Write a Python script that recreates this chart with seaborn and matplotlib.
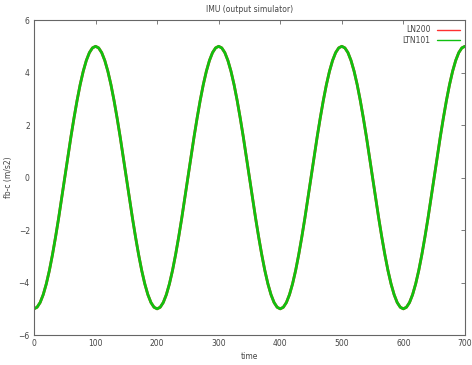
import matplotlib
matplotlib.use("Agg")
import matplotlib.pyplot as plt
import seaborn as sns
import pandas as pd
import numpy as np

title = "IMU (output simulator)"
xlabel = "time"
ylabel = "fb-c (m/s2)"
series_names = ["LN200", "LTN101"]
series_colors = ["#ff3030", "#10c010"]
x_ticks = [0, 100, 200, 300, 400, 500, 600, 700]
y_ticks = [-6, -4, -2, 0, 2, 4, 6]

time = list(range(0, 705, 5))
accel = [
    -5.00, -4.94, -4.76, -4.46, -4.05, -3.54, -2.94, -2.27, -1.55, -0.78,
    0.00, 0.78, 1.55, 2.27, 2.94, 3.54, 4.05, 4.46, 4.76, 4.94,
    5.00, 4.94, 4.76, 4.46, 4.05, 3.54, 2.94, 2.27, 1.55, 0.78,
    0.00, -0.78, -1.55, -2.27, -2.94, -3.54, -4.05, -4.46, -4.76, -4.94,
    -5.00, -4.94, -4.76, -4.46, -4.05, -3.54, -2.94, -2.27, -1.55, -0.78,
    0.00, 0.78, 1.55, 2.27, 2.94, 3.54, 4.05, 4.46, 4.76, 4.94,
    5.00, 4.94, 4.76, 4.46, 4.05, 3.54, 2.94, 2.27, 1.55, 0.78,
    0.00, -0.78, -1.55, -2.27, -2.94, -3.54, -4.05, -4.46, -4.76, -4.94,
    -5.00, -4.94, -4.76, -4.46, -4.05, -3.54, -2.94, -2.27, -1.55, -0.78,
    0.00, 0.78, 1.55, 2.27, 2.94, 3.54, 4.05, 4.46, 4.76, 4.94,
    5.00, 4.94, 4.76, 4.46, 4.05, 3.54, 2.94, 2.27, 1.55, 0.78,
    0.00, -0.78, -1.55, -2.27, -2.94, -3.54, -4.05, -4.46, -4.76, -4.94,
    -5.00, -4.94, -4.76, -4.46, -4.05, -3.54, -2.94, -2.27, -1.55, -0.78,
    0.00, 0.78, 1.55, 2.27, 2.94, 3.54, 4.05, 4.46, 4.76, 4.94,
    5.00,
]

df = pd.concat([
    pd.DataFrame({"time": time, "value": accel, "sensor": series_names[0]}),
    pd.DataFrame({"time": time, "value": accel, "sensor": series_names[1]}),
])

sns.set_style("white")
plt.rcParams["font.family"] = ["DejaVu Sans"]

fig = plt.figure(figsize=(4.72, 3.65), dpi=100)
ax = fig.add_axes([0.072, 0.082, 0.913, 0.863])

sns.lineplot(data=df, x="time", y="value", hue="sensor",
             palette=dict(zip(series_names, series_colors)),
             linewidth=2.0, ax=ax, legend=True)

ax.set_xlim(0, 700)
ax.set_ylim(-6, 6)
ax.set_xticks(x_ticks)
ax.set_yticks(y_ticks)
ax.tick_params(direction="in", length=3, width=0.6, labelsize=5.5,
               labelcolor="#444444", color="#666666",
               top=True, right=True, pad=3)
for s in ax.spines.values():
    s.set_color("#666666")
    s.set_linewidth(0.8)

ax.set_xlabel(xlabel, fontsize=5.5, color="#444444", labelpad=3)
ax.set_ylabel(ylabel, fontsize=5.5, color="#444444", labelpad=4)
ax.set_title(title, fontsize=5.5, color="#444444", pad=6)

leg = ax.legend(loc="upper right", frameon=False, fontsize=5.5,
                markerfirst=False, handlelength=3.0, borderaxespad=0.3,
                labelspacing=0.2)
for t in leg.get_texts():
    t.set_color("#444444")
for h in leg.get_lines():
    h.set_linewidth(1.0)

fig.savefig("out.png", dpi=100)
